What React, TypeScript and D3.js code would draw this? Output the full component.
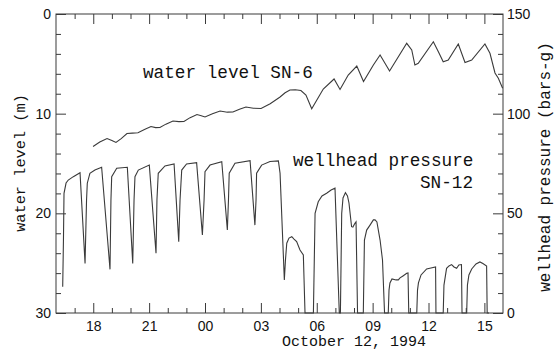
import React, { useEffect, useRef } from 'react';
import * as d3 from 'd3';

// hours since 00:00 Oct 11, 1994
const WATER_T = [17.99, 18.35, 18.74, 19.0, 19.22, 19.5, 19.81, 20.1, 20.4, 20.75, 21.1, 21.35, 21.58, 21.9, 22.28, 22.6, 22.87, 23.2, 23.57, 23.8, 24.0, 24.4, 24.81, 25.2, 25.5, 25.85, 26.2, 26.6, 27.01, 27.5, 28.03, 28.3, 28.56, 28.85, 29.15, 29.42, 29.73, 30.35, 30.93, 31.25, 31.69, 32.15, 32.51, 33.04, 33.4, 33.91, 34.83, 35.1, 35.27, 35.45, 36.26, 36.53, 36.79, 37.06, 37.6, 37.96, 38.32, 39.03, 39.3, 39.57, 39.75, 39.98];
const WATER_M = [13.29, 12.85, 12.49, 12.7, 12.89, 12.5, 11.99, 11.95, 11.91, 11.6, 11.29, 11.4, 11.39, 11.05, 10.74, 10.8, 10.79, 10.4, 10.08, 10.2, 10.33, 10.0, 9.73, 9.85, 9.83, 9.55, 9.33, 9.45, 9.48, 9.0, 8.33, 7.9, 7.63, 7.6, 7.68, 8.13, 9.5, 7.53, 6.52, 7.57, 6.12, 5.22, 6.77, 5.12, 4.11, 5.72, 2.94, 3.61, 5.12, 4.95, 2.78, 3.78, 4.79, 4.62, 3.01, 4.87, 4.62, 3.01, 3.94, 5.92, 6.45, 7.45];

const PRESS_T = [16.36, 16.4, 16.43, 16.54, 16.66, 16.93, 17.29, 17.56,
  17.64, 17.68, 17.82, 18.09, 18.45, 18.9,
  18.95, 18.99, 19.26, 19.83, 20.12,
  20.19, 20.24, 20.42, 21.01, 21.37,
  21.42, 21.49, 21.85, 22.34, 22.59,
  22.66, 22.75, 23.01, 23.55, 23.86,
  23.95, 24.0, 24.27, 24.9, 25.2,
  25.26, 25.3, 25.61, 26.42, 26.68,
  26.74, 26.77, 27.04, 27.49, 27.94, 28.03, 28.26,
  28.32, 28.39, 28.51, 28.66, 28.78, 28.92, 29.1, 29.28, 29.37, 29.82,
  29.91, 30.08, 30.28, 30.53, 30.77, 30.98, 31.21, 31.27,
  31.34, 31.41, 31.54, 31.65, 31.73, 31.87, 31.94, 32.05, 32.11, 32.19, 32.5,
  32.56, 32.68, 32.86, 33.04, 33.13, 33.23, 33.4, 33.53, 33.64, 33.84,
  33.88, 33.93, 34.04, 34.26, 34.38, 34.47, 34.63, 34.83, 34.9, 34.94, 35.37,
  35.41, 35.46, 35.6, 35.9, 36.13, 36.38, 36.4, 36.79,
  36.83, 36.97, 37.1, 37.24, 37.37, 37.51, 37.63, 37.77, 37.8, 38.05,
  38.09, 38.17, 38.32, 38.55, 38.76, 38.92, 39.12, 39.15, 39.25];
const PRESS_BAR = [13.2, 36.6, 60.0, 65.2, 66.7, 68.4, 70.4, 24.9,
  56.7, 65.1, 70.1, 71.7, 73.1, 21.9,
  56.7, 68.4, 72.6, 73.1, 24.9,
  56.7, 68.4, 71.7, 74.2, 30.0,
  56.7, 70.1, 73.8, 74.8, 35.8,
  56.7, 71.7, 74.8, 75.4, 39.1,
  56.7, 70.9, 74.2, 75.9, 41.6,
  56.7, 70.1, 75.1, 76.4, 44.1,
  56.7, 70.1, 74.2, 76.0, 76.3, 70.1, 16.6,
  26.6, 35.0, 37.6, 38.3, 37.1, 35.8, 31.6, 29.1, 0, 0,
  50.0, 55.8, 58.7, 60.1, 61.7, 62.6, 0, 0,
  50.0, 57.7, 60.4, 58.7, 55.2, 43.3, 43.1, 45.0, 45.7, 0, 0,
  36.6, 41.6, 44.1, 46.7, 46.7, 45.7, 36.6, 26.6, 0, 0,
  11.5, 15.1, 17.1, 16.6, 16.6, 17.6, 18.6, 19.9, 20.1, 0, 0,
  11.5, 15.1, 19.1, 22.1, 22.6, 23.1, 0, 0,
  14.0, 22.4, 23.6, 24.3, 23.1, 22.4, 24.1, 24.3, 0, 0,
  14.0, 19.1, 22.1, 24.6, 25.6, 24.8, 23.6, 0, 0];

const X_MAJOR = [18, 21, 24, 27, 30, 33, 36, 39];
const X_LABELS = ['18', '21', '00', '03', '06', '09', '12', '15'];
const LEFT_MAJOR = [0, 10, 20, 30];
const RIGHT_MAJOR = [0, 50, 100, 150];

export default function App() {
  const ref = useRef<SVGSVGElement>(null);
  useEffect(() => {
    const svg = d3.select(ref.current);
    svg.selectAll('*').remove();
    const L = 56, T = 14, R = 503, B = 313;
    const x = d3.scaleLinear().domain([16, 40]).range([L, R]);
    const yL = d3.scaleLinear().domain([0, 30]).range([T, B]);
    const yR = d3.scaleLinear().domain([0, 150]).range([B, T]);
    const ink = '#3a3a3a';
    const tickFont = "'Liberation Sans', Arial, sans-serif";
    const mono = "'Liberation Mono', 'Courier New', monospace";

    const styleAxis = (g: any) => {
      g.select('.domain').remove();
      g.selectAll('line').attr('stroke', ink).attr('stroke-width', 1);
      g.selectAll('text').attr('fill', '#111').style('font-family', tickFont).style('font-size', '14px');
    };
    const hours = d3.range(17, 40);
    // bottom
    svg.append('g').attr('transform', `translate(0,${B})`)
      .call(d3.axisBottom(x).tickValues(hours.filter(h => h % 3 !== 0)).tickSize(-5).tickFormat(() => ''))
      .call(styleAxis);
    svg.append('g').attr('transform', `translate(0,${B})`)
      .call(d3.axisBottom(x).tickValues(X_MAJOR).tickSize(-10).tickPadding(8).tickFormat((d, i) => X_LABELS[i]))
      .call(styleAxis);
    // top
    svg.append('g').attr('transform', `translate(0,${T})`)
      .call(d3.axisTop(x).tickValues(hours.filter(h => h % 3 !== 0)).tickSize(-5).tickFormat(() => ''))
      .call(styleAxis);
    svg.append('g').attr('transform', `translate(0,${T})`)
      .call(d3.axisTop(x).tickValues(X_MAJOR).tickSize(-10).tickFormat(() => ''))
      .call(styleAxis);
    // left
    svg.append('g').attr('transform', `translate(${L},0)`)
      .call(d3.axisLeft(yL).tickValues(d3.range(2, 30, 2).filter(v => v % 10 !== 0)).tickSize(-5).tickFormat(() => ''))
      .call(styleAxis);
    svg.append('g').attr('transform', `translate(${L},0)`)
      .call(d3.axisLeft(yL).tickValues(LEFT_MAJOR).tickSize(-10).tickPadding(5).tickFormat(d3.format('d')))
      .call(styleAxis);
    // right
    svg.append('g').attr('transform', `translate(${R},0)`)
      .call(d3.axisRight(yR).tickValues(d3.range(10, 150, 10).filter(v => v % 50 !== 0)).tickSize(-5).tickFormat(() => ''))
      .call(styleAxis);
    svg.append('g').attr('transform', `translate(${R},0)`)
      .call(d3.axisRight(yR).tickValues(RIGHT_MAJOR).tickSize(-10).tickPadding(4).tickFormat(d3.format('d')))
      .call(styleAxis);

    // frame
    svg.append('rect').attr('x', L).attr('y', T).attr('width', R - L).attr('height', B - T)
      .attr('fill', 'none').attr('stroke', ink).attr('stroke-width', 1);

    // water level
    const wl = d3.line<number>().x((_, i) => x(WATER_T[i])).y(d => yL(d));
    svg.append('path').attr('d', wl(WATER_M)).attr('fill', 'none').attr('stroke', ink).attr('stroke-width', 1.1);
    // pressure
    const pl = d3.line<number>().x((_, i) => x(PRESS_T[i])).y(d => yR(d));
    svg.append('path').attr('d', pl(PRESS_BAR)).attr('fill', 'none').attr('stroke', ink).attr('stroke-width', 1.1);

    const txt = (s: string, px: number, py: number, size: number, anchor = 'start', rot = 0) =>
      svg.append('text').attr('transform', `translate(${px},${py}) rotate(${rot})`)
        .attr('text-anchor', anchor).style('font-family', mono).style('font-size', `${size}px`)
        .attr('fill', '#111').text(s);
    txt('water level SN-6', 143, 78, 17.7);
    txt('wellhead pressure', 293, 166, 17.7);
    txt('SN-12', 473, 188, 17.7, 'end');
    txt('October 12, 1994', 354, 346, 15, 'middle');
    txt('water level (m)', 25, 163, 15.3, 'middle', -90);
    txt('wellhead pressure (bars-g)', 550, 167, 16, 'middle', -90);
  }, []);
  return (
    <svg ref={ref} width={558} height={352}
      style={{ position: 'absolute', left: 0, top: 0, background: '#fff' }} />
  );
}
